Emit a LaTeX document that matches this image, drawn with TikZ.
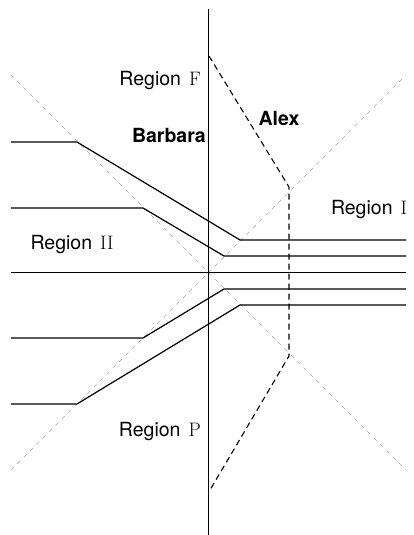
\documentclass[tikz,border=0pt]{standalone}
\usepackage{fontspec}
\newfontfamily\helv{TeX Gyre Heros}
\newcommand{\regname}[1]{{\helv Region}\hspace{8pt}#1}
\tikzset{
  axisline/.style={line width=0.9pt},
  guide/.style={gray!70, line width=0.5pt, dash pattern=on 4pt off 5pt},
  budget/.style={line width=1.2pt},
  alexline/.style={line width=1.1pt, dash pattern=on 6pt off 4pt},
  lbl/.style={font=\fontsize{19.5}{22}\selectfont, inner sep=0pt},
  who/.style={font=\fontsize{19.5}{22}\selectfont\helv\bfseries, inner sep=0pt}
}
\begin{document}
\begin{tikzpicture}[x=1pt,y=1pt]
	\useasboundingbox (-208,-263) rectangle (206,272);
	% Diagonale hjelpelinjer
	\draw[guide] (-197,197) -- (198,-198);
	\draw[guide] (-197,-198) -- (198,197);
	% Akser
	\draw[axisline] (0,263) -- (0,-263);
	\draw[axisline] (-197,0) -- (198,0);
	% Kurver over aksen
	\draw[budget] (-197,130) -- (-131,130) -- (32,32) -- (198,32);
	\draw[budget] (-197,64) -- (-65,64) -- (16,16) -- (198,16);
	% Kurver under aksen
	\draw[budget] (-197,-66) -- (-65,-66) -- (16,-17) -- (198,-17);
	\draw[budget] (-197,-132) -- (-131,-132) -- (32,-33) -- (198,-33);
	% Alex
	\draw[alexline] (1,216) -- (81,85) -- (81,-84) -- (2,-218);
	% Tekster
	\node[lbl, anchor=east] (regF) at (-7,191) {\regname{F}};
	\node[lbl] (regI) at (161,62) {\regname{I}};
	\node[lbl] (regII) at (-136,27) {\regname{II}};
	\node[lbl, anchor=east] (regP) at (-7,-160) {\regname{P}};
	\node[who] (alex) at (71,154) {Alex};
	\node[who, anchor=east] (barbara) at (-2,137) {Barbara};
\end{tikzpicture}
\end{document}
